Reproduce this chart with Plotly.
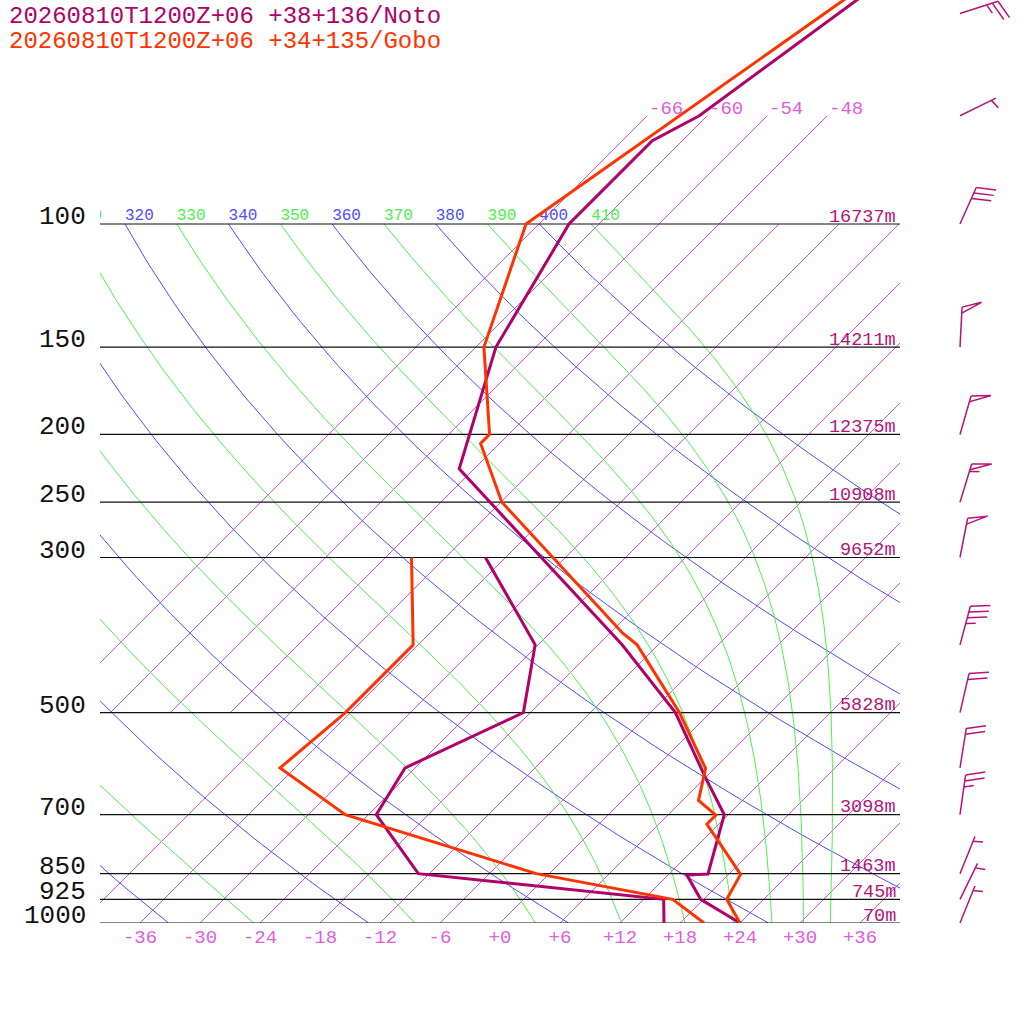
import numpy as np
import plotly.graph_objects as go

# ---------------- data ----------------
title_noto = "20260810T1200Z+06 +38+136/Noto"
title_gobo = "20260810T1200Z+06 +34+135/Gobo"

pressure_levels = [100, 150, 200, 250, 300, 500, 700, 850, 925, 1000]
height_m = [16737, 14211, 12375, 10908, 9652, 5828, 3098, 1463, 745, 70]

noto_t_p = [1000, 925, 854, 851, 700, 618, 500, 400, 224, 150, 100, 76, 70, 50, 30]
noto_t = [24.0, 17.7, 13.9, 15.9, 11.6, 5.9, -3.5, -15.6, -49.5, -58.0, -63.0, -63.0, -60.8, -57.1, -51.5]
noto_td_p = [1000, 925, 850, 700, 600, 500, 400, 300]
noto_td = [16.4, 14.0, -13.1, -23.2, -25.0, -18.7, -24.3, -38.0]

gobo_t_p = [1000, 925, 852, 722, 701, 668, 601, 500, 400, 385, 250, 206, 200, 150, 100, 70, 50, 30]
gobo_t = [24.0, 20.3, 19.2, 10.8, 10.8, 7.6, 5.1, -3.1, -14.1, -16.7, -41.9, -49.9, -49.9, -59.2, -67.3, -62.7, -58.4, -52.0]
gobo_td_p = [1000, 925, 850, 700, 600, 500, 400, 300]
gobo_td = [20.4, 14.9, -1.3, -26.3, -37.5, -36.5, -36.5, -45.4]

wind_p = [1000, 925, 850, 700, 600, 500, 400, 300, 250, 200, 150, 100, 70, 50]
wind_dir = [22, 26, 22, 8, 9, 13, 15, 11, 17, 16, 3, 24, 64, 72]
wind_kt = [5, 5, 5, 25, 20, 20, 35, 50, 55, 50, 50, 30, 5, 25]

isotherms = list(range(-66, 37, 6))
dry_theta = list(range(240, 401, 20))
moist_theta = list(range(250, 411, 20))
tick_t = list(range(-36, 37, 6))

# ---------------- style ----------------
NOTO = "#b0006a"
GOBO = "#ff3300"
BARB = "#b41478"
ISO = "#d652ea"
ISO_LABEL = "#e05ce0"
DRY = "#4d4dff"
MOIST = "#4cf04c"
FONT = "Liberation Mono"
W = H = 1024

PX_PER_LN = 699 / np.log(10)      # pixels per ln(p) unit
SKEW = PX_PER_LN / 10             # deg C per ln(p) unit (45 degree skew)
P_TOP = 1000 * np.exp(-923 / PX_PER_LN)
KAPPA = 0.2857


def skew_x(t, p):
    return np.asarray(t, float) + SKEW * np.log(1000 / np.asarray(p, float))


def join(segments):
    xs, ys = [], []
    for x, y in segments:
        xs += list(x) + [None]
        ys += list(y) + [None]
    return xs, ys


def moist_line(theta, ps):
    # pseudo-adiabat started from the dry value at 100 hPa
    def rate(T, p):
        es = 6.112 * np.exp(17.67 * (T - 273.15) / (T - 29.65))
        rs = 0.622 * es / (p - es)
        return (287.04 * T + 2.501e6 * rs) / (1005.7 + 2.501e6 ** 2 * rs * 0.622 / (287.04 * T * T))
    T = theta * 0.1 ** KAPPA
    out = [T]
    lnp = np.log(ps)
    for i in range(1, len(ps)):
        h = lnp[i] - lnp[i - 1]
        p0 = ps[i - 1]
        k1 = rate(T, p0)
        k2 = rate(T + h * k1 / 2, p0 * np.exp(h / 2))
        k3 = rate(T + h * k2 / 2, p0 * np.exp(h / 2))
        k4 = rate(T + h * k3, ps[i])
        T = T + h * (k1 + 2 * k2 + 2 * k3 + k4) / 6
        out.append(T)
    return np.array(out) - 273.15


fig = go.Figure()

# isotherms
segs = []
for t in isotherms:
    ps = [500, 70] if t < -45 else [1000, 100]
    segs.append((skew_x([t, t], ps), ps))
x, y = join(segs)
fig.add_trace(go.Scatter(x=x, y=y, mode="lines", line=dict(color=ISO, width=1), hoverinfo="skip"))

# dry adiabats
ps = np.exp(np.linspace(np.log(1000), np.log(100), 80))
segs = []
for th in dry_theta:
    t = th * (ps / 1000) ** KAPPA - 273.15
    segs.append((skew_x(t, ps), ps))
x, y = join(segs)
fig.add_trace(go.Scatter(x=x, y=y, mode="lines", line=dict(color=DRY, width=1), hoverinfo="skip"))

# pseudo-adiabats
ps_up = np.exp(np.linspace(np.log(100), np.log(1000), 200))
segs = []
for th in moist_theta:
    t = moist_line(th, ps_up)
    segs.append((skew_x(t, ps_up), ps_up))
x, y = join(segs)
fig.add_trace(go.Scatter(x=x, y=y, mode="lines", line=dict(color=MOIST, width=1), hoverinfo="skip"))

# isobars
segs = [([-40, 40], [p, p]) for p in pressure_levels]
x, y = join(segs)
fig.add_trace(go.Scatter(x=x, y=y, mode="lines", line=dict(color="#111111", width=1.2), hoverinfo="skip"))

# labels of the adiabats at 100 hPa
lab_x, lab_t, lab_c = [], [], []
for th in dry_theta:
    if th >= 320:
        lab_x.append(skew_x(th * 0.1 ** KAPPA - 273.15, 100))
        lab_t.append(str(th))
        lab_c.append(DRY)
for th in moist_theta:
    if th >= 310:
        lab_x.append(skew_x(th * 0.1 ** KAPPA - 273.15, 100))
        lab_t.append(str(th))
        lab_c.append(MOIST)
fig.add_trace(go.Scatter(x=lab_x, y=[100] * len(lab_x), mode="text", text=lab_t,
                         textposition="top right", cliponaxis=True,
                         textfont=dict(family=FONT, size=16, color=lab_c), hoverinfo="skip"))

# soundings
for tp, tv, dp, dv, col in [(noto_t_p, noto_t, noto_td_p, noto_td, NOTO),
                            (gobo_t_p, gobo_t, gobo_td_p, gobo_td, GOBO)]:
    fig.add_trace(go.Scatter(x=skew_x(dv, dp), y=dp, mode="lines", line=dict(color=col, width=3)))
    fig.add_trace(go.Scatter(x=skew_x(tv, tp), y=tp, mode="lines", line=dict(color=col, width=3)))

# wind barbs (x2 is in pixels)
STAFF = 40
BASE_X = 960


def barb(p, d, spd):
    r = np.radians(d)
    ux, uy = np.sin(r), np.cos(r)
    a = np.radians(-73)
    bx, by = ux * np.cos(a) - uy * np.sin(a), ux * np.sin(a) + uy * np.cos(a)

    def pt(s, k=0.0):
        sx, sy = s * ux + k * bx, s * uy + k * by
        return BASE_X + sx, p * np.exp(-sy / PX_PER_LN)

    out = [[pt(0), pt(STAFF)]]
    pos = STAFF
    n50, rem = divmod(spd, 50)
    n10, rem = divmod(rem, 10)
    n5 = rem // 5
    for _ in range(n50):
        out.append([pt(pos), pt(pos, 20), pt(pos - 6)])
        pos -= 8
    for _ in range(n10):
        out.append([pt(pos), pt(pos, 20)])
        pos -= 6
    if n5:
        if n50 == 0 and n10 == 0:
            pos -= 5
        out.append([pt(pos), pt(pos, 10)])
    return out


bx_all, by_all = [], []
for p, d, s in zip(wind_p, wind_dir, wind_kt):
    for poly in barb(p, d, s):
        bx_all += [q[0] for q in poly] + [None]
        by_all += [q[1] for q in poly] + [None]
fig.add_trace(go.Scatter(x=bx_all, y=by_all, xaxis="x2", yaxis="y", mode="lines",
                         line=dict(color=BARB, width=1.5), cliponaxis=False, hoverinfo="skip"))

annotations = [
    dict(text=title_noto, x=7 / W, y=1 - 16 / H, xanchor="left", yanchor="middle",
         font=dict(family=FONT, size=24, color=NOTO)),
    dict(text=title_gobo, x=7 / W, y=1 - 41 / H, xanchor="left", yanchor="middle",
         font=dict(family=FONT, size=24, color=GOBO)),
]
for p, h in zip(pressure_levels, height_m):
    annotations.append(dict(text=str(p), x=88 / W, y=np.log10(p), yref="y", xanchor="right",
                            yanchor="middle", yshift=7, font=dict(family=FONT, size=26, color="#111111")))
    annotations.append(dict(text=f"{h}m", x=898 / W, y=np.log10(p), yref="y", xanchor="right",
                            yanchor="middle", yshift=7, font=dict(family=FONT, size=18.5, color=BARB)))
# labels of the cold isotherms where they end at 70 hPa
for t in isotherms:
    if t < -45:
        annotations.append(dict(text=str(t), x=float(skew_x(t, 70)), xref="x", y=np.log10(70), yref="y",
                                xanchor="left", yanchor="middle", yshift=7,
                                font=dict(family=FONT, size=19, color=ISO_LABEL)))
for a in annotations:
    a.setdefault("xref", "paper")
    a.setdefault("yref", "paper")
    a["showarrow"] = False

fig.update_layout(
    width=W, height=H,
    margin=dict(l=0, r=0, t=0, b=0),
    paper_bgcolor="white", plot_bgcolor="white",
    showlegend=False,
    annotations=annotations,
    xaxis=dict(domain=[100 / W, 900 / W], range=[-40, 40], showgrid=False, zeroline=False,
               showline=False, ticks="", tickvals=tick_t,
               ticktext=[("+" if t >= 0 else "") + str(t) for t in tick_t],
               tickfont=dict(family=FONT, size=19, color=ISO_LABEL), automargin=False),
    yaxis=dict(domain=[(H - 923) / H, 1], type="log", range=[3, np.log10(P_TOP)], showgrid=False,
               zeroline=False, showline=False, ticks="", showticklabels=False, automargin=False),
    xaxis2=dict(domain=[900 / W, 1], range=[900, W], anchor="y", visible=False),
)

# the page body has a default 8px margin; drop it so the figure sits at the window corner
fig.write_html("out.html", config={"displayModeBar": False},
               post_script="document.body.style.margin='0px';")
